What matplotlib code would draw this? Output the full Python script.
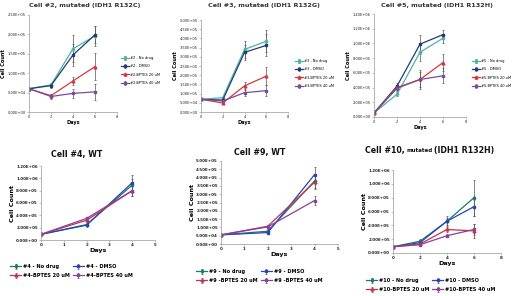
import matplotlib
matplotlib.use("Agg")
import matplotlib.pyplot as plt
from matplotlib.ticker import FuncFormatter, MultipleLocator

OUTPUT_FILE = "out.png"

# Cell #2
days_2 = [0, 2, 4, 6]
c2_nodrug = [6.0e4, 7.0e4, 1.63e5, 1.96e5]
c2_dmso = [6.0e4, 6.8e4, 1.47e5, 1.99e5]
c2_b20 = [6.0e4, 4.2e4, 8.0e4, 1.17e5]
c2_b40 = [6.0e4, 4.0e4, 4.8e4, 5.2e4]
c2_err = [[0, 6e3, 3.5e4, 2.6e4], [0, 5e3, 2.8e4, 2.2e4], [0, 5e3, 1.0e4, 3.5e4], [0, 7e3, 1.2e4, 2.0e4]]

# Cell #3
days_3 = [0, 2, 4, 6]
c3_nodrug = [6.9e4, 7.8e4, 3.40e5, 3.84e5]
c3_dmso = [6.9e4, 6.5e4, 3.24e5, 3.62e5]
c3_b20 = [6.9e4, 4.9e4, 1.42e5, 1.95e5]
c3_b40 = [6.9e4, 6.0e4, 1.05e5, 1.16e5]
c3_err = [[0, 5e3, 4.5e4, 6e4], [0, 5e3, 4e4, 6e4], [0, 5e3, 2e4, 5e4], [0, 5e3, 2e4, 3e4]]

# Cell #5
days_5 = [0, 2, 4, 6]
c5_nodrug = [5.5e4, 3.1e5, 8.8e5, 1.07e6]
c5_dmso = [5.5e4, 4.2e5, 9.9e5, 1.12e6]
c5_b20 = [5.5e4, 4.0e5, 5.1e5, 7.4e5]
c5_b40 = [5.5e4, 3.9e5, 5.1e5, 5.6e5]
c5_err = [[0, 3e4, 1.2e5, 6e4], [0, 4e4, 1.3e5, 6e4], [0, 3e4, 1.3e5, 1.1e5], [0, 3e4, 1.0e5, 1.0e5]]

# Cell #4
days_4 = [0, 2, 4]
c4_nodrug = [9.2e4, 2.5e5, 8.9e5]
c4_dmso = [9.2e4, 2.4e5, 9.3e5]
c4_b20 = [9.2e4, 3.2e5, 8.0e5]
c4_b40 = [9.2e4, 3.5e5, 8.0e5]
c4_err = [[0, 2e4, 1.0e5], [0, 2e4, 1.2e5], [0, 3e4, 8e4], [0, 3e4, 8e4]]

# Cell #9
days_9 = [0, 2, 4]
c9_nodrug = [5.5e4, 7.7e4, 3.8e5]
c9_dmso = [5.5e4, 6.9e4, 4.18e5]
c9_b20 = [5.5e4, 1.07e5, 3.73e5]
c9_b40 = [5.5e4, 1.03e5, 2.62e5]
c9_err = [[0, 5e3, 4e4], [0, 5e3, 4.5e4], [0, 1e4, 4e4], [0, 1e4, 2.5e4]]

# Cell #10
days_10 = [0, 2, 4, 6]
c10_nodrug = [9e4, 1.7e5, 4.6e5, 8.0e5]
c10_dmso = [9e4, 1.5e5, 4.6e5, 6.7e5]
c10_b20 = [9e4, 1.3e5, 3.4e5, 3.2e5]
c10_b40 = [9e4, 1.2e5, 2.5e5, 3.4e5]
c10_err = [[0, 2e4, 7e4, 2.6e5], [0, 1e4, 5e4, 1.3e5], [0, 1e4, 3e4, 1.0e5], [0, 1e4, 2e4, 8e4]]

top_colors = ["#4db3a2", "#233a78", "#d8383c", "#7a4a9c"]
bot_colors = ["#1c7a64", "#2446b8", "#c8304e", "#8a3ea0"]
markers = ["d", "s", "^", "s"]

sci = FuncFormatter(lambda v, p: "{:.2E}".format(v))


def px(x, y, w, h):
    return [x / 520, 1 - (y + h) / 296, w / 520, h / 296]


def panel(fig, rect, days, series, errs, names, colors, ymax, ystep, xmax, xstep,
          tick_fs, lab_fs, bold):
    ax = fig.add_axes(rect)
    handles = []
    for vals, err, name, col, mk in zip(series, errs, names, colors, markers):
        h = ax.errorbar(days, vals, yerr=err, color=col, marker=mk, ms=2, lw=0.9,
                        ecolor="#555555", elinewidth=0.5, capsize=0.8, capthick=0.5,
                        label=name)
        handles.append(h)
    ax.set_xlim(0, xmax)
    ax.set_ylim(0, ymax)
    ax.xaxis.set_major_locator(MultipleLocator(xstep))
    ax.yaxis.set_major_locator(MultipleLocator(ystep))
    ax.yaxis.set_major_formatter(sci)
    for s in ["top", "right"]:
        ax.spines[s].set_visible(False)
    for s in ["left", "bottom"]:
        ax.spines[s].set_color("#999999")
        ax.spines[s].set_linewidth(0.5)
    w = "bold" if bold else "normal"
    ax.tick_params(labelsize=tick_fs, length=1.2, width=0.4, pad=1, colors="#999999",
                   labelcolor="#222222")
    for t in ax.get_xticklabels() + ax.get_yticklabels():
        t.set_fontweight(w)
    ax.set_xlabel("Days", fontsize=lab_fs, fontweight="bold", labelpad=1)
    ax.set_ylabel("Cell Count", fontsize=lab_fs, fontweight="bold", labelpad=1)
    return ax, handles


fig = plt.figure(figsize=(5.2, 2.96), dpi=100)

# top row
top = [
    ("Cell #2, mutated (IDH1 R132C)", px(29, 15, 88, 97), days_2,
     [c2_nodrug, c2_dmso, c2_b20, c2_b40], c2_err, "#2", 2.5e5, 5e4, (85, 6), (121, 56)),
    ("Cell #3, mutated (IDH1 R132G)", px(201, 20, 87, 92), days_3,
     [c3_nodrug, c3_dmso, c3_b20, c3_b40], c3_err, "#3", 5.0e5, 5e4, (264, 6), (295, 59)),
    ("Cell #5, mutated (IDH1 R132H)", px(374, 14, 92, 103), days_5,
     [c5_nodrug, c5_dmso, c5_b20, c5_b40], c5_err, "#5", 1.4e6, 2e5, (437, 5), (472, 59)),
]
for title, rect, days, series, errs, tag, ymax, ystep, tpos, lpos in top:
    names = ["%s - No drug" % tag, "%s - DMSO" % tag,
             "%s-BPTES 20 uM" % tag, "%s-BPTES 40 uM" % tag]
    ax, handles = panel(fig, rect, days, series, errs, names, top_colors,
                        ymax, ystep, 8, 2, 2.6, 3.6, False)
    fig.text(tpos[0] / 520, 1 - tpos[1] / 296, title, ha="center", va="center",
             fontsize=4.6, fontweight="bold", color="#333333")
    fig.legend(handles, names, loc="upper left",
               bbox_to_anchor=(lpos[0] / 520, 1 - lpos[1] / 296),
               fontsize=2.6, frameon=False, handlelength=2.2, handletextpad=0.4,
               labelspacing=1.2, borderaxespad=0, borderpad=0)

# bottom row
bottom = [
    ("Cell #4, WT", px(41, 166, 114, 74), days_4,
     [c4_nodrug, c4_dmso, c4_b20, c4_b40], c4_err, ["#4 - No drug", "#4 - DMSO",
     "#4-BPTES 20 uM", "#4-BPTES 40 uM"], 1.2e6, 2e5, 5, 1, (77, 155), (10, 264)),
    ("Cell #9, WT", px(221, 161, 117, 83), days_9,
     [c9_nodrug, c9_dmso, c9_b20, c9_b40], c9_err, ["#9 - No drug", "#9 - DMSO",
     "#9 -BPTES 20 uM", "#9 -BPTES 40 uM"], 5.0e5, 5e4, 5, 1, (260, 152), (196, 269)),
    (None, px(393, 170, 108, 83), days_10,
     [c10_nodrug, c10_dmso, c10_b20, c10_b40], c10_err, ["#10 - No drug", "#10 - DMSO",
     "#10-BPTES 20 uM", "#10-BPTES 40 uM"], 1.2e6, 2e5, 8, 2, (433, 151), (366, 278)),
]
for title, rect, days, series, errs, names, ymax, ystep, xmax, xstep, tpos, lpos in bottom:
    ax, handles = panel(fig, rect, days, series, errs, names, bot_colors,
                        ymax, ystep, xmax, xstep, 2.9, 4.6, True)
    if title:
        fig.text(tpos[0] / 520, 1 - tpos[1] / 296, title, ha="center", va="center",
                 fontsize=5.7, fontweight="bold", color="#111111")
    order = [0, 2, 1, 3]
    fig.legend([handles[i] for i in order], [names[i] for i in order],
               loc="upper left", ncol=2,
               bbox_to_anchor=(lpos[0] / 520, 1 - lpos[1] / 296),
               prop={"size": 3.6, "weight": "bold"}, frameon=False,
               handlelength=2.2, handletextpad=0.4, columnspacing=0.6,
               labelspacing=0.8, borderaxespad=0, borderpad=0)

# Cell #10 title with mixed sizes, chained so the pieces do not overlap
t1 = fig.text(365 / 520, 1 - 151 / 296, "Cell #10,", ha="left", va="baseline",
              fontsize=5.7, fontweight="bold", color="#111111")
t2 = fig.text(0, 0, "mutated", fontsize=4.0, fontweight="bold", color="#111111")
t3 = fig.text(0, 0, "(IDH1 R132H)", fontsize=5.7, fontweight="bold", color="#111111")
fig.canvas.draw()
r = fig.canvas.get_renderer()
bb1 = t1.get_window_extent(r)
inv = fig.transFigure.inverted()
x2 = inv.transform((bb1.x1 + 2, 0))[0]
t2.set_position((x2, 1 - 151 / 296))
fig.canvas.draw()
bb2 = t2.get_window_extent(r)
x3 = inv.transform((bb2.x1 + 1, 0))[0]
t3.set_position((x3, 1 - 151 / 296))
for t in (t1, t2, t3):
    t.set_va("center")

fig.savefig(OUTPUT_FILE, dpi=100)
